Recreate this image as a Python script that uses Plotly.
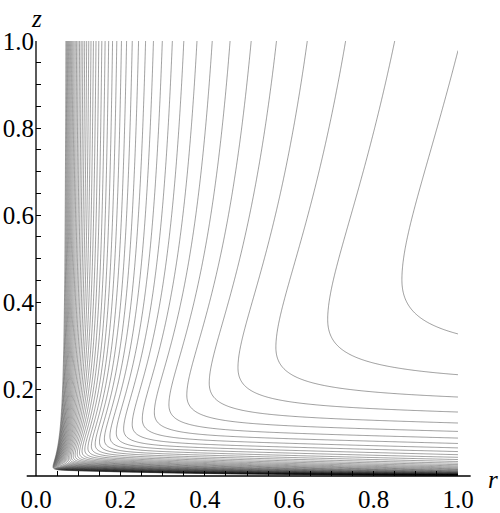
import numpy as np
import plotly.graph_objects as go

# contour field phi(r, z) = r^-p * Q(s), s = z / r, with Q shaped from the
# line positions (minimum of Q on the ray s = S_MIN)
P_EXP = 0.7
S_MIN = 0.52
LOW_A, LOW_C = 0.531, 0.202      # crowding towards the plane z = 0
HIGH_M, HIGH_W2 = 0.56, 1.73     # slow rise towards the axis
LEVEL_START, LEVEL_END, LEVEL_STEP = 1.105, 9.55, 0.19

x_ticks = [0.0, 0.2, 0.4, 0.6, 0.8, 1.0]
x_labels = ["0.0", "0.2", "0.4", "0.6", "0.8", "1.0"]
y_ticks = [0.2, 0.4, 0.6, 0.8, 1.0]
y_labels = ["0.2", "0.4", "0.6", "0.8", "1.0"]


def q_profile(s):
    d = np.log(s / S_MIN)
    low = LOW_A * d ** 2 / (1 + LOW_C * np.abs(d))
    high = HIGH_M * d ** 2 / (HIGH_W2 + d ** 2)
    return 1 + np.where(d < 0, low, high)


r = np.unique(np.concatenate([np.geomspace(0.02, 0.15, 280), np.linspace(0.15, 1.0, 320)]))
z = np.unique(np.concatenate([np.geomspace(1e-4, 0.05, 280), np.linspace(0.05, 1.0, 320)]))
R, Z = np.meshgrid(r, z)
phi = R ** (-P_EXP) * q_profile(Z / R)

fig = go.Figure()
fig.add_trace(go.Contour(
    x=r, y=z, z=phi,
    contours=dict(start=LEVEL_START, end=LEVEL_END, size=LEVEL_STEP, coloring="none"),
    line=dict(color="rgba(0,0,0,0.42)", width=0.9),
    showscale=False, hoverinfo="skip",
))

font = dict(family="Liberation Serif", size=25, color="black")
axis_common = dict(range=[0, 1], showgrid=False, zeroline=False, showline=False,
                   automargin=False, ticks="inside", ticklen=5, tickcolor="black",
                   tickfont=font,
                   minor=dict(dtick=0.05, tick0=0, ticks="inside", ticklen=5, tickcolor="black"))
fig.update_layout(
    width=500, height=513,
    margin=dict(l=36, r=42, t=41, b=37),
    paper_bgcolor="white", plot_bgcolor="white",
    showlegend=False,
    xaxis=dict(axis_common, tickvals=x_ticks, ticktext=x_labels, ticklabelstandoff=6),
    yaxis=dict(axis_common, tickvals=y_ticks, ticktext=y_labels, ticklabelstandoff=1),
)

# axes drawn Maple-style: horizontal axis runs a little past the vertical one
fig.add_shape(type="line", xref="paper", yref="paper", x0=-0.022, x1=1.03, y0=0, y1=0,
              line=dict(color="black", width=1.3))
fig.add_shape(type="line", xref="paper", yref="paper", x0=0, x1=0, y0=0, y1=1,
              line=dict(color="black", width=1.3))

label_font = dict(family="Liberation Serif", size=25, color="black")
fig.add_annotation(text="<i>z</i>", xref="paper", yref="paper", x=0, y=1.017,
                   xanchor="center", yanchor="bottom", showarrow=False, font=label_font)
fig.add_annotation(text="<i>r</i>", xref="paper", yref="paper", x=1.083, y=-0.007,
                   xanchor="center", yanchor="middle", showarrow=False, font=label_font)

# drop the default 8 px page margin so the figure sits at the window corner
fig.write_html("out.html", config={"displayModeBar": False},
               post_script="document.body.style.margin = '0';")
